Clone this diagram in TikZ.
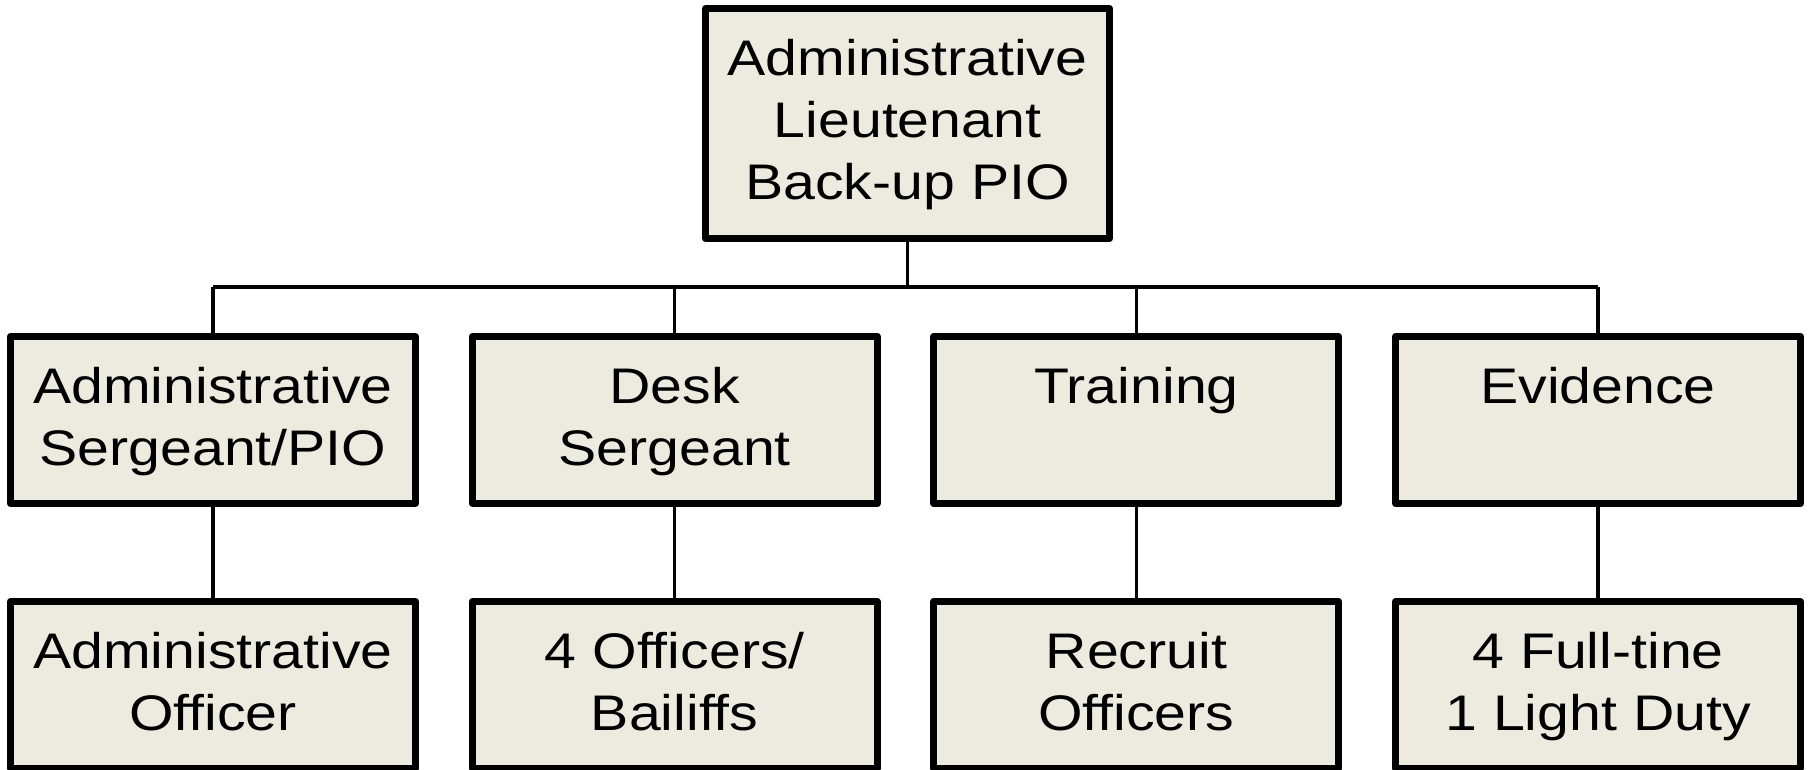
\documentclass[tikz,border=0pt]{standalone}
\usepackage{fontspec}
\setmainfont[FakeStretch=1.145]{Liberation Sans}
\usetikzlibrary{calc,positioning}
\definecolor{boxfill}{RGB}{237,234,224}

\begin{document}
\begin{tikzpicture}[x=0.5pt,y=-0.5pt,
    unit/.style={draw=black,fill=boxfill,line width=3.5pt,line join=round,outer sep=0pt,inner sep=0pt,minimum width=202.5pt,minimum height=83.5pt},
    unittext/.style={anchor=north,inner sep=0pt,align=center,font=\fontsize{25pt}{31pt}\selectfont},
    link/.style={line width=1.7pt}]

  \useasboundingbox (0,0) rectangle (1812,770);

  %% Lieutenant on top
  \node[unit,minimum width=202pt,minimum height=115pt] (lt) at (907.5,123.5) {};
  \node[unittext] (lt-txt) at ([yshift=-15.25pt]lt.north) {Administrative\\Lieutenant\\Back-up PIO};

  \coordinate (bus) at (907.5,287); % horizontal branch line
  \draw[link] (lt.south) -- (bus);

  %% Sections (row 2) and their staff (row 3)
  \foreach \col/\sect/\staff in {1/{Administrative\\Sergeant/PIO}/{Administrative\\Officer},
                                 2/{Desk\\Sergeant}/{4 Officers/\\Bailiffs},
                                 3/{Training}/{Recruit\\Officers},
                                 4/{Evidence}/{4 Full-tine\\1 Light Duty}}{
    \pgfmathsetmacro\xc{213 + 461.7*(\col-1)}
    \node[unit] (sect\col) at (\xc,420) {};
    \node[unit] (staff\col) at (\xc,685) {};
    \node[unittext] at ([yshift=-15.25pt]sect\col.north) {\sect};
    \node[unittext] at ([yshift=-15.25pt]staff\col.north) {\staff};
    % connectors
    \draw[link] (sect\col.north |- bus) -- (sect\col.north);
    \draw[link] (sect\col.south) -- (staff\col.north);
  }

  \draw[link] (sect1.north |- bus) -- (sect4.north |- bus);

\end{tikzpicture}
\end{document}
